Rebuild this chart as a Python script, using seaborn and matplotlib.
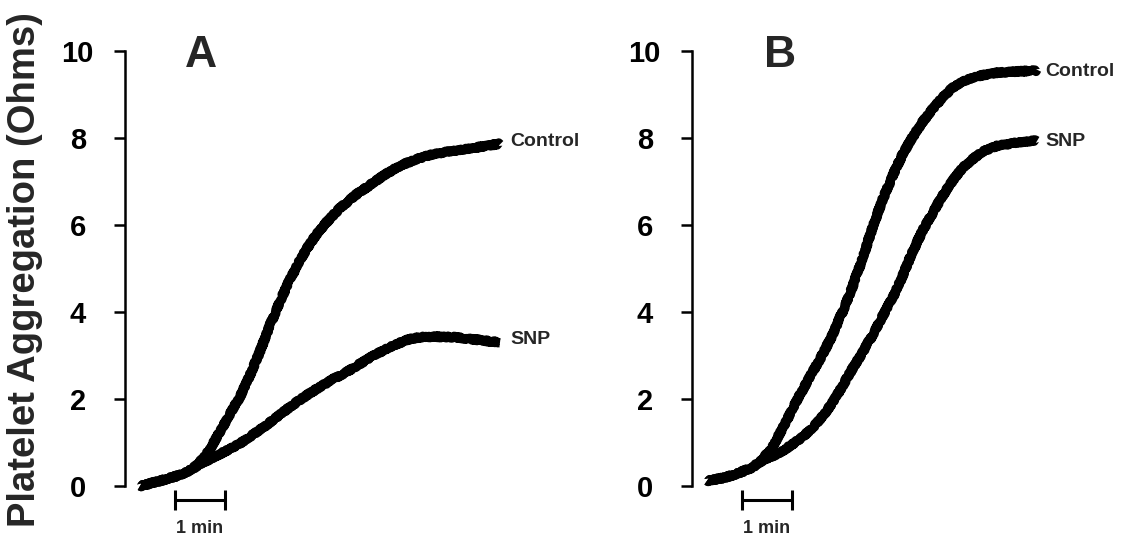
import matplotlib
matplotlib.use("Agg")
import matplotlib.pyplot as plt
import seaborn as sns
import pandas as pd

sns.set_style("white")
plt.rcParams['font.family'] = ['Liberation Sans', 'DejaVu Sans']
plt.rcParams['font.weight'] = 'bold'

# ---- data (time in minutes from trace start, aggregation in Ohms) ----
a_control_t = [0, 0.4, 0.8, 1.0, 1.2, 1.4, 1.6, 1.8, 2.0, 2.2, 2.4, 2.6, 2.8, 3.0, 3.2, 3.4, 3.6, 3.8,
               4.0, 4.3, 4.6, 4.9, 5.2, 5.5, 5.8, 6.2, 6.6, 7.0, 7.2]
a_control_v = [0.0, 0.12, 0.25, 0.36, 0.55, 0.85, 1.25, 1.65, 2.05, 2.55, 3.1, 3.7, 4.25, 4.75, 5.2, 5.57,
               5.89, 6.15, 6.39, 6.68, 6.92, 7.16, 7.36, 7.5, 7.61, 7.7, 7.76, 7.83, 7.87]
a_snp_t = [0, 0.4, 0.8, 1.0, 1.2, 1.5, 1.8, 2.1, 2.4, 2.7, 3.0, 3.3, 3.6, 3.9, 4.2, 4.5, 4.8, 5.1, 5.4,
           5.7, 6.0, 6.3, 6.6, 6.9, 7.2]
a_snp_v = [0.0, 0.12, 0.25, 0.36, 0.5, 0.68, 0.85, 1.05, 1.29, 1.55, 1.82, 2.06, 2.28, 2.48, 2.67, 2.88,
           3.08, 3.25, 3.38, 3.43, 3.43, 3.42, 3.38, 3.34, 3.30]

b_control_t = [0, 0.3, 0.6, 0.9, 1.1, 1.3, 1.5, 1.7, 1.9, 2.1, 2.3, 2.5, 2.7, 2.9, 3.1, 3.3, 3.5, 3.7,
               3.9, 4.1, 4.3, 4.5, 4.7, 4.9, 5.1, 5.4, 5.8, 6.2, 6.6]
b_control_v = [0.12, 0.18, 0.28, 0.42, 0.6, 0.88, 1.3, 1.75, 2.18, 2.6, 3.0, 3.45, 3.98, 4.55, 5.2, 5.9,
               6.55, 7.1, 7.6, 8.0, 8.35, 8.65, 8.92, 9.15, 9.3, 9.42, 9.5, 9.53, 9.55]
b_snp_t = [0, 0.3, 0.6, 0.9, 1.1, 1.3, 1.5, 1.7, 1.9, 2.1, 2.3, 2.5, 2.7, 2.9, 3.1, 3.3, 3.5, 3.7, 3.9,
           4.1, 4.3, 4.5, 4.7, 4.9, 5.1, 5.3, 5.5, 5.8, 6.2, 6.6]
b_snp_v = [0.12, 0.18, 0.28, 0.42, 0.58, 0.68, 0.8, 0.95, 1.12, 1.32, 1.58, 1.9, 2.28, 2.68, 3.05, 3.45,
           3.88, 4.3, 4.8, 5.35, 5.85, 6.25, 6.65, 7.0, 7.3, 7.5, 7.68, 7.82, 7.9, 7.95]

y_ticks = [0, 2, 4, 6, 8, 10]
panel_letters = ["A", "B"]
series_names = ["Control", "SNP"]
scale_bar_min = [0.7, 1.7]
scale_label = "1 min"
y_label = "Platelet Aggregation (Ohms)"

W, H = 1122, 540
fig = plt.figure(figsize=(W / 100, H / 100), dpi=100)

def px_axes(left_px):
    bottom = (H - 486) / H
    height = (486 - 51) / H
    width = 465 / W
    return fig.add_axes([left_px / W, bottom, width, height])

axA = px_axes(125)
axB = px_axes(692)

panels = [
    (axA, a_control_t, a_control_v, a_snp_t, a_snp_v, (7.4, 7.92), (7.4, 3.36), (1.22, 9.9)),
    (axB, b_control_t, b_control_v, b_snp_t, b_snp_v, (6.76, 9.54), (6.76, 7.93), (1.46, 9.9)),
]

for i, (ax, ct, cv, st, sv, cl, sl, lp) in enumerate(panels):
    for t, v in [(ct, cv), (st, sv)]:
        df = pd.DataFrame({"t": t, "v": v})
        sns.lineplot(data=df, x="t", y="v", ax=ax, sort=False, color="black",
                     lw=6.6, estimator=None, solid_capstyle="butt")
    for line in ax.lines:
        line.set_clip_on(False)
        line.set_sketch_params(scale=1.0, length=1.5, randomness=3.0)
        line.set_solid_joinstyle("round")

    ax.set_xlim(-0.3, 9.0)
    ax.set_ylim(0, 10)
    ax.set_yticks(y_ticks)
    ax.set_yticklabels([str(v) for v in y_ticks], fontsize=21, fontweight="bold", ha="center")
    ax.tick_params(axis="y", direction="out", length=8, width=1.8, pad=26, left=True, colors="black")
    ax.set_xticks([])
    ax.set_xlabel("")
    ax.set_ylabel("")
    for s in ["top", "right", "bottom"]:
        ax.spines[s].set_visible(False)
    ax.spines["left"].set_linewidth(1.8)
    ax.spines["left"].set_color("black")
    ax.patch.set_alpha(0)

    ax.text(cl[0], cl[1], series_names[0], fontsize=14, fontweight="bold", ha="left", va="center")
    ax.text(sl[0], sl[1], series_names[1], fontsize=14, fontweight="bold", ha="left", va="center")
    ax.text(lp[0], lp[1], panel_letters[i], fontsize=32, fontweight="bold", ha="center", va="center")

    # scale bar
    ax.plot(scale_bar_min, [-0.32, -0.32], color="black", lw=2.2, clip_on=False,
            marker="|", markersize=15, mew=2.2)
    ax.text(sum(scale_bar_min) / 2, -0.97, scale_label, fontsize=13, fontweight="bold",
            ha="center", va="center")

fig.text(25 / W, 0.5, y_label, rotation=90, fontsize=27.5, fontweight="bold",
         ha="center", va="center")

fig.savefig("out.png", dpi=100)
